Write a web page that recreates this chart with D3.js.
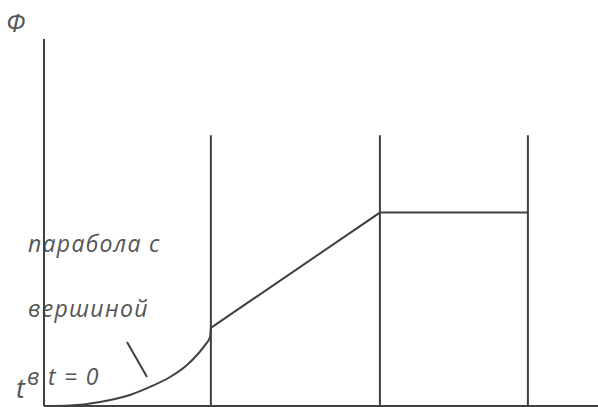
<!DOCTYPE html>
<html>
<head>
<meta charset="utf-8">
<script src="https://cdn.jsdelivr.net/npm/d3@7"></script>
<style>
  html, body { margin: 0; padding: 0; background: #fff; }
  svg { display: block; }
  text { font-family: "Open Sans", sans-serif; font-style: italic; fill: #555; }
</style>
</head>
<body>
<script>
// ---- data ----
const curveT   = [0, 0.156, 0.336, 0.515, 0.635, 0.755, 0.857, 0.917, 0.965, 0.995, 1.0];
const curvePhi = [0, 0.0014, 0.011, 0.030, 0.052, 0.079, 0.112, 0.139, 0.166, 0.188, 0.213];
const lineT    = [1.0, 2.013, 2.90];
const linePhi  = [0.213, 0.527, 0.527];
const boundaryT = [1.0, 2.013, 2.90];
const boundaryTop = 0.738;
const axisLabels = { y: "Φ", x: "t" };
const noteLines = ["парабола с", "вершиной", "в t = 0"];

const W = 598, H = 407;
const svg = d3.select("body").append("svg").attr("width", W).attr("height", H);

const x = d3.scaleLinear().domain([0, 3.32]).range([44, 598]);
const y = d3.scaleLinear().domain([0, 1]).range([406, 39]);

const stroke = "#404040";

// annotation text
const notePos = [[28, 252], [28, 317], [27, 385]];
svg.selectAll("text.note").data(noteLines).join("text")
  .attr("class", "note")
  .attr("x", (d, i) => notePos[i][0])
  .attr("y", (d, i) => notePos[i][1])
  .attr("font-size", 23)
  .attr("letter-spacing", 1.3)
  .attr("xml:space", "preserve")
  .style("white-space", "pre")
  .text(d => d);

// axis labels
svg.append("text").attr("x", 6).attr("y", 32).attr("font-size", 26).text(axisLabels.y);
svg.append("text").attr("x", 16).attr("y", 398).attr("font-size", 27).text(axisLabels.x);

// axes
svg.append("line")
  .attr("x1", x(0)).attr("x2", x(0)).attr("y1", y(0)).attr("y2", y(1))
  .attr("stroke", stroke).attr("stroke-width", 2);
svg.append("line")
  .attr("x1", x(0)).attr("x2", x(3.32)).attr("y1", y(0)).attr("y2", y(0))
  .attr("stroke", stroke).attr("stroke-width", 2);

// boundary verticals
svg.selectAll("line.bnd").data(boundaryT).join("line")
  .attr("class", "bnd")
  .attr("x1", d => x(d)).attr("x2", d => x(d))
  .attr("y1", y(0)).attr("y2", y(boundaryTop))
  .attr("stroke", stroke).attr("stroke-width", 2);

// parabola
const curveData = curveT.map((t, i) => [t, curvePhi[i]]);
svg.append("path")
  .datum(curveData)
  .attr("fill", "none").attr("stroke", stroke).attr("stroke-width", 2)
  .attr("d", d3.line().x(d => x(d[0])).y(d => y(d[1])).curve(d3.curveMonotoneX));

// linear + plateau
const lineData = lineT.map((t, i) => [t, linePhi[i]]);
svg.append("path")
  .datum(lineData)
  .attr("fill", "none").attr("stroke", stroke).attr("stroke-width", 2)
  .attr("d", d3.line().x(d => x(d[0])).y(d => y(d[1])));

// pointer slash
svg.append("line")
  .attr("x1", 127).attr("y1", 342).attr("x2", 147).attr("y2", 377)
  .attr("stroke", stroke).attr("stroke-width", 2);
</script>
</body>
</html>
